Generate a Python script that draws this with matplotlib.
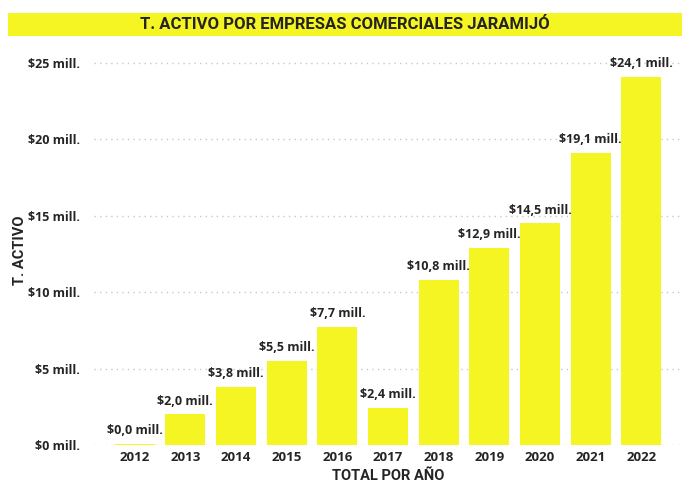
import matplotlib
matplotlib.use("Agg")
import matplotlib.pyplot as plt
from matplotlib.patches import Rectangle

years = ["2012", "2013", "2014", "2015", "2016", "2017", "2018", "2019", "2020", "2021", "2022"]
activo = [0.05, 2.0, 3.8, 5.5, 7.7, 2.4, 10.8, 12.9, 14.5, 19.1, 24.1]
labels = ["$0,0 mill.", "$2,0 mill.", "$3,8 mill.", "$5,5 mill.", "$7,7 mill.", "$2,4 mill.",
          "$10,8 mill.", "$12,9 mill.", "$14,5 mill.", "$19,1 mill.", "$24,1 mill."]
yticks = [0, 5, 10, 15, 20, 25]
yticklabels = ["$0 mill.", "$5 mill.", "$10 mill.", "$15 mill.", "$20 mill.", "$25 mill."]

yellow = "#F4F522"
dark = "#252423"
plt.rcParams['font.family'] = ['Open Sans', 'DejaVu Sans']
title_font = ['Roboto', 'DejaVu Sans']

fig = plt.figure(figsize=(6.82, 4.84), dpi=100)
ax = fig.add_axes([0.138, 0.0806, 0.862, 0.805])

x = range(len(years))
ax.bar(x, activo, width=0.79, color=yellow, zorder=2)
for xi, v, lab in zip(x, activo, labels):
    ax.text(xi, v + 0.45, lab, ha="center", va="bottom", fontsize=9, fontweight="bold", color=dark)

ax.set_xlim(-0.8, 10.8)
ax.set_ylim(0, 25.5)
ax.set_xticks(list(x))
ax.set_xticklabels(years, fontsize=9.5, fontweight="bold", color=dark)
ax.set_yticks(yticks)
ax.set_yticklabels(yticklabels, fontsize=9, fontweight="bold", color=dark)
ax.tick_params(axis="x", length=0, pad=4)
ax.tick_params(axis="y", length=0, pad=10)
ax.grid(axis="y", color="#c8c8c8", linestyle=(0, (1, 3)), linewidth=1, zorder=0)
for s in ax.spines.values():
    s.set_visible(False)

ax.set_xlabel("TOTAL POR AÑO", fontsize=10.5, fontweight="bold", color=dark, family=title_font, labelpad=4)
ax.set_ylabel("T. ACTIVO", fontsize=10.5, fontweight="bold", color=dark, family=title_font)
ax.yaxis.set_label_coords(-0.115, 0.5)

fig.patches.append(Rectangle((8 / 682, 1 - 36 / 484), 674 / 682, 23 / 484, transform=fig.transFigure,
                             facecolor=yellow, edgecolor="none"))
fig.text(345 / 682, 1 - 24.5 / 484, "T. ACTIVO POR EMPRESAS COMERCIALES JARAMIJÓ", ha="center", va="center",
         fontsize=12, fontweight="bold", color=dark, family=title_font)

fig.savefig("out.png", dpi=100)
